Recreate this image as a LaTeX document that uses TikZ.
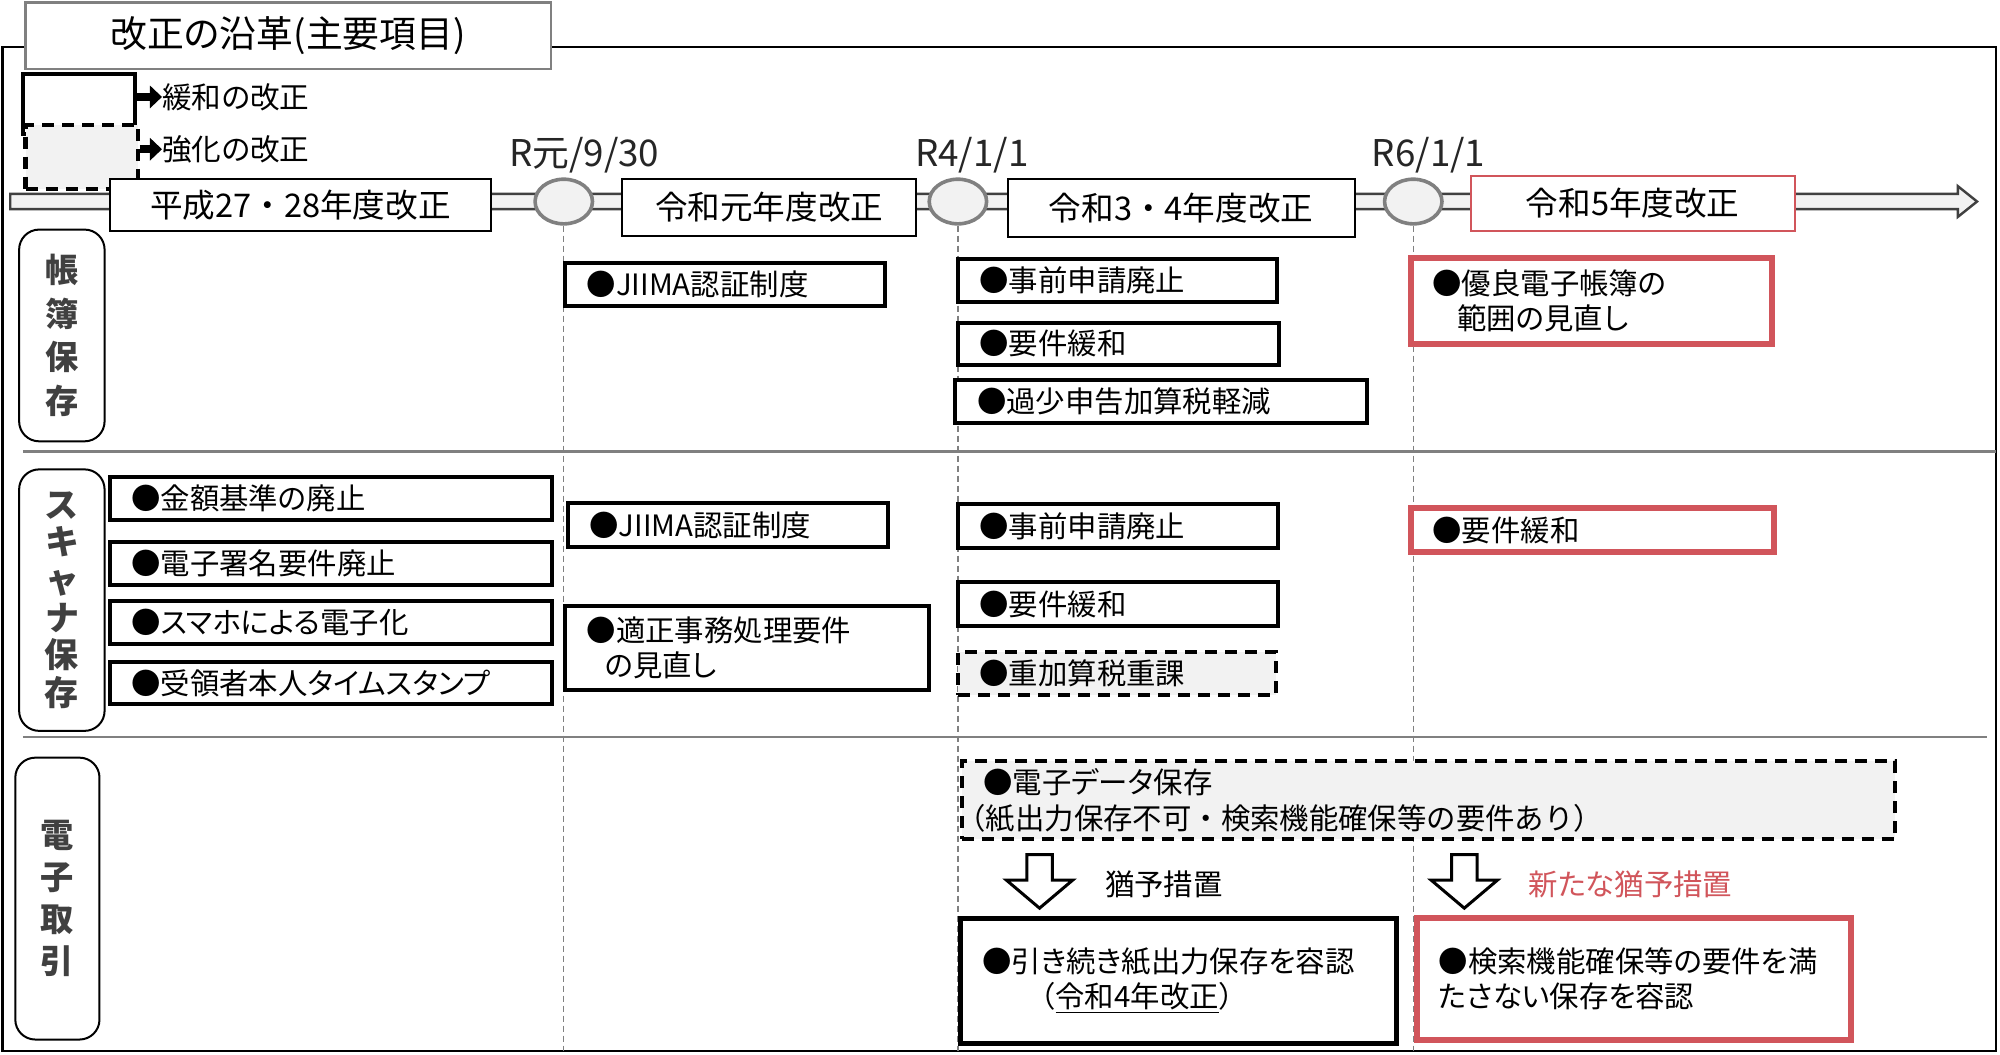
\documentclass[tikz,border=0pt]{standalone}
\usepackage{fontspec}
\setmainfont{Noto Sans CJK JP}[RawFeature=+palt]
\newfontfamily\nopalt{Noto Sans CJK JP}
\usetikzlibrary{arrows.meta,shapes.geometric}
\definecolor{myred}{RGB}{209,85,91}
\definecolor{lgray}{RGB}{242,242,242}
\definecolor{mgray}{RGB}{128,128,128}
\definecolor{dgray}{RGB}{64,64,64}
\def\pxu{0.6378pt}
\newcommand{\fs}[2]{\fontsize{#1}{#2}\selectfont}
\begin{document}
\begin{tikzpicture}[x=0.6378pt,y=-0.6378pt,
  tw/.code={\pgfmathsetlengthmacro\mytw{(#1-34)*0.6378}\tikzset{text width=\mytw}},
  ibox/.style 2 args={draw=black, line width=2pt, fill=white, align=left, inner xsep=10.84pt, inner ysep=0pt, minimum height=#2*\pxu, tw=#1, font=\fs{14.7}{17.6}},
  rbox/.style 2 args={ibox={#1}{#2}, draw=myred, line width=3pt},
  dbox/.style 2 args={ibox={#1}{#2}, fill=lgray, dash pattern=on 6pt off 4pt},
  pbox/.style 2 args={draw=black, line width=1pt, fill=white, minimum width=#1*\pxu, minimum height=#2*\pxu, inner sep=0pt, font=\nopalt\fs{16.3}{18}},
  sbox/.style 2 args={draw=black, line width=1pt, rounded corners=10pt, minimum width=#1*\pxu, minimum height=#2*\pxu, inner sep=0pt, align=center, text=dgray},
  datelbl/.style={font=\fs{18.4}{20}, text=black!85, inner sep=0pt},
  ell/.style={ellipse, draw=mgray, line width=1.8pt, fill=lgray, minimum width=45*\pxu, minimum height=35*\pxu, inner sep=0pt},
  vline/.style={mgray, line width=0.6pt, dash pattern=on 3pt off 2pt},
  barrow/.style={draw=black, line width=1.5pt, fill=white, line join=miter},
  sep/.style={mgray, line width=1.2pt},
  lgarrow/.style={line width=4pt, -{Triangle[length=6pt,width=11pt]}},
  lgtext/.style={anchor=west, inner sep=0pt, font=\fs{14.8}{18}},
]
\useasboundingbox (0,0) rectangle (1568,827);
\fill[white] (0,0) rectangle (1568,827);

% outer frame
\draw[line width=1.2pt] (2,37) rectangle (1565,824);
\coordinate (fbot) at (0,824);

% timeline bar
\draw[draw=dgray, line width=1.2pt, fill=lgray] (8,152) -- (1535,152) -- (1535,146) -- (1550,158) -- (1535,170) -- (1535,164) -- (8,164) -- cycle;

% milestones
\node[ell] (e1) at (442,158) {};
\node[ell] (e2) at (751,158) {};
\node[ell] (e3) at (1108,158) {};
\draw[vline] (e1.south) -- (e1.south |- fbot);
\draw[vline] (e2.south) -- (e2.south |- fbot);
\draw[vline] (e3.south) -- (e3.south |- fbot);

\node[datelbl] (d1) at (458,122) {R元/9/30};
\node[datelbl] (d2) at (762,122) {R4/1/1};
\node[datelbl] (d3) at (1120,122) {R6/1/1};

% section separators
\draw[sep] (18,354) -- (1565,354);
\draw[sep] (18,578) -- (1558,578);

% section labels
\node[sbox={67}{166}, font=\bfseries\fs{16.6}{21.7}] (s1) at (48.5,263) {帳\\簿\\保\\存};
\node[sbox={67}{205}, font=\bfseries\fs{17}{18.8}] (s2) at (48.5,470.5) {ス\\キ\\ャ\\ナ\\保\\存};
\node[sbox={66}{221}, font=\bfseries\fs{16.6}{21}] (s3) at (45,704.5) {電\\子\\取\\引};

% title
\node[draw=mgray, line width=1.2pt, fill=white, minimum width=412*\pxu, minimum height=52*\pxu, inner sep=0pt, font=\fs{18.4}{20}] (title) at (226,28) {改正の沿革(主要項目)};

% legend
\node[draw=black, line width=2.2pt, minimum width=88*\pxu, minimum height=47*\pxu, inner sep=0pt] (lg1) at (62,81.5) {};
\node[draw=black, line width=2.2pt, dash pattern=on 6pt off 4pt, fill=lgray, minimum width=88*\pxu, minimum height=50*\pxu, inner sep=0pt] (lg2) at (64,123) {};
\node[lgtext] (lt1) at (127,76) {緩和の改正};
\node[lgtext] (lt2) at (127,117) {強化の改正};
\draw[lgarrow] (lg1.east |- lt1.west) -- (lt1.west);
\draw[lgarrow] (lg2.east |- lt2.west) -- (lt2.west);

% period boxes
\node[pbox={299}{41}] (p1) at (235.5,160.5) {平成27・28年度改正};
\node[pbox={230}{45}] (p2) at (603,162.5) {令和元年度改正};
\node[pbox={272}{46}] (p3) at (926,163) {令和3・4年度改正};
\node[pbox={254}{43}, draw=myred] (p4) at (1280,159.5) {令和5年度改正};

% 帳簿保存
\node[ibox={251}{34}] (c1) at (568.5,223) {●JIIMA認証制度};
\node[ibox={250}{34}] (c2) at (876,220) {●事前申請廃止};
\node[ibox={252}{33}] (c3) at (877,269.5) {●要件緩和};
\node[ibox={323}{34}] (c4) at (910.5,315) {●過少申告加算税軽減};
\node[rbox={283}{68}] (c5) at (1247.5,236) {●優良電子帳簿の\\\hspace*{12.5pt}範囲の見直し};

% スキャナ保存
\node[ibox={347}{34}] (k1) at (259.5,391) {●金額基準の廃止};
\node[ibox={347}{34}] (k2) at (259.5,442) {●電子署名要件廃止};
\node[ibox={347}{34}] (k3) at (259.5,488) {●スマホによる電子化};
\node[ibox={347}{33}] (k4) at (259.5,535.5) {●受領者本人タイムスタンプ};
\node[ibox={251}{35}] (k5) at (570.5,411.5) {●JIIMA認証制度};
\node[ibox={285}{66}] (k6) at (585.5,508) {●適正事務処理要件\\\hspace*{9pt}の見直し};
\node[ibox={251}{35}] (k7) at (876.5,412.5) {●事前申請廃止};
\node[ibox={251}{35}] (k8) at (876.5,473.5) {●要件緩和};
\node[dbox={249}{34}] (k9) at (875.5,528) {●重加算税重課};
\node[rbox={285}{35}] (k10) at (1248.5,415.5) {●要件緩和};

% 電子取引
\node[dbox={732}{61}] (t1) at (1120,627.5) {●電子データ保存\\\hspace*{-13.5pt}{\nopalt（紙出力保存不可・検索機能確保等の要件あり）}};
\node[ibox={342}{98}, line width=2.4pt] (t2) at (924,769) {●引き続き紙出力保存を容認\\\hspace*{22pt}{\nopalt（\underline{令和4年改正}）}};
\node[rbox={340}{95}] (t3) at (1281,767.5) {●検索機能確保等の要件を満\\たさない保存を容認};

% block arrows
\draw[barrow] (815,670) ++(-10,0) -- ++(20,0) -- ++(0,20) -- ++(16,0) -- ++(-26,22) -- ++(-26,-22) -- ++(16,0) -- cycle;
\draw[barrow] (1148,670) ++(-10,0) -- ++(20,0) -- ++(0,20) -- ++(16,0) -- ++(-26,22) -- ++(-26,-22) -- ++(16,0) -- cycle;
\node[anchor=west, inner sep=0pt, font=\fs{14.7}{18}] (l1) at (866,693) {猶予措置};
\node[anchor=west, inner sep=0pt, font=\fs{14.7}{18}, text=myred] (l2) at (1198,693) {新たな猶予措置};
\end{tikzpicture}
\end{document}
